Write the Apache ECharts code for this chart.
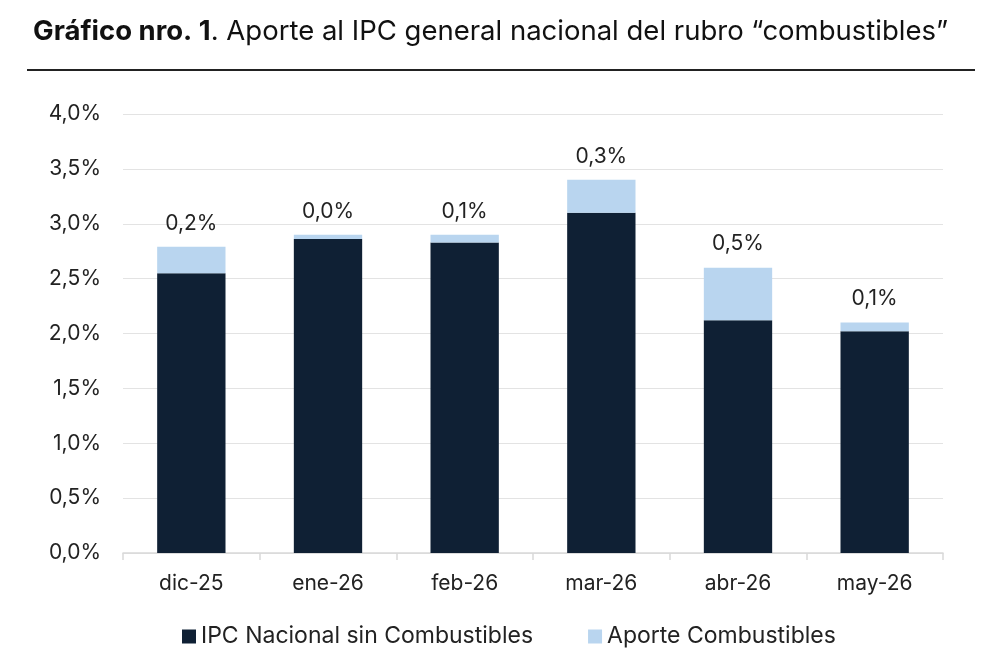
<!DOCTYPE html>
<html>
<head>
<meta charset="utf-8">
<script src="https://cdn.jsdelivr.net/npm/echarts@6/dist/echarts.min.js"></script>
<style>
  html, body { margin: 0; padding: 0; background: #fff; }
  #chart { width: 990px; height: 669px; }
</style>
</head>
<body>
<div id="chart"></div>
<script>
const categories = ['dic-25', 'ene-26', 'feb-26', 'mar-26', 'abr-26', 'may-26'];
// IPC sin combustibles (%)
const ipcSinComb = [2.55, 2.86, 2.83, 3.10, 2.12, 2.02];
// aporte del rubro combustibles (%)
const aporteComb = [0.24, 0.04, 0.07, 0.30, 0.48, 0.08];
const seriesNames = ['IPC Nacional sin Combustibles', 'Aporte Combustibles'];

const fontFam = 'Inter, "Noto Sans", sans-serif';
const pct = (v) => v.toFixed(1).replace('.', ',') + '%';

const chart = echarts.init(document.getElementById('chart'));

const option = {
  animation: false,
  textStyle: { fontFamily: fontFam },
  title: {
    left: 28,
    top: 13,
    text: '{b|Gráfico nro. 1}{n|. Aporte al IPC general nacional del rubro “combustibles”}',
    textStyle: {
      rich: {
        b: { fontFamily: fontFam, fontSize: 27.5, fontWeight: 'bold', color: '#111' },
        n: { fontFamily: fontFam, fontSize: 27.5, fontWeight: 'normal', color: '#111' }
      }
    }
  },
  graphic: [
    {
      type: 'line',
      shape: { x1: 27, y1: 70, x2: 975, y2: 70 },
      style: { stroke: '#222', lineWidth: 2 }
    }
  ],
  legend: {
    bottom: 16,
    left: 177,
    itemWidth: 14,
    itemHeight: 14,
    itemGap: 55,
    icon: 'rect',
    textStyle: { fontSize: 23, color: '#222', fontFamily: fontFam },
    data: seriesNames
  },
  grid: {
    left: 123,
    right: 47,
    top: 114,
    bottom: 116
  },
  xAxis: {
    type: 'category',
    data: categories,
    axisLine: { lineStyle: { color: '#d9d9d9', width: 1.5 } },
    axisTick: { show: true, length: 7, lineStyle: { color: '#d9d9d9', width: 1.5 } },
    axisLabel: { fontSize: 21, color: '#222', margin: 20 }
  },
  yAxis: {
    type: 'value',
    min: 0,
    max: 4,
    interval: 0.5,
    axisLine: { show: false },
    axisTick: { show: false },
    splitLine: { lineStyle: { color: '#e3e3e3', width: 1 } },
    axisLabel: { fontSize: 21, color: '#222', margin: 22, formatter: pct }
  },
  series: [
    {
      name: seriesNames[0],
      type: 'bar',
      stack: 'total',
      barWidth: '50%',
      itemStyle: { color: '#0f2034' },
      data: ipcSinComb
    },
    {
      name: seriesNames[1],
      type: 'bar',
      stack: 'total',
      barWidth: '50%',
      itemStyle: { color: '#b9d5ef' },
      label: {
        show: true,
        position: 'top',
        distance: 13,
        fontSize: 21,
        color: '#222',
        formatter: (p) => pct(p.value)
      },
      data: aporteComb
    }
  ]
};

chart.setOption(option);
</script>
</body>
</html>
